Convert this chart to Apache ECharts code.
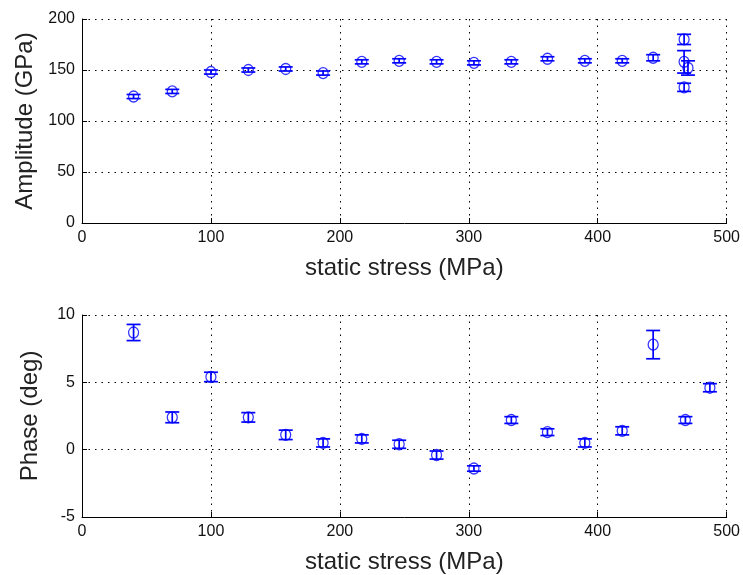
<!DOCTYPE html>
<html>
<head>
<meta charset="utf-8">
<script src="https://cdn.jsdelivr.net/npm/echarts@6/dist/echarts.min.js"></script>
<style>
html,body{margin:0;padding:0;background:#fff;}
#chart{width:743px;height:575px;}
</style>
</head>
<body>
<div id="chart"></div>
<script>
// ---- data ----
const ampX   = [40, 70, 100, 129, 158, 187, 217, 246, 275, 304, 333, 361, 390, 419, 443, 467, 467, 470, 467];
const ampY   = [124, 129, 148, 150, 151, 147, 158, 159, 158, 157, 158, 161, 159, 159, 162, 180, 158, 152, 133];
const ampErr = [2, 2, 2, 2, 2, 2, 2, 2, 2, 2, 2, 2, 2, 2, 3, 5, 11, 7, 4];

const phaseX   = [40, 70, 100, 129, 158, 187, 217, 246, 275, 304, 333, 361, 390, 419, 443, 468, 487];
const phaseY   = [8.7, 2.4, 5.4, 2.4, 1.1, 0.5, 0.8, 0.4, -0.4, -1.4, 2.2, 1.3, 0.5, 1.4, 7.8, 2.2, 4.6];
const phaseErr = [0.6, 0.4, 0.35, 0.35, 0.35, 0.3, 0.3, 0.3, 0.3, 0.2, 0.25, 0.25, 0.3, 0.3, 1.05, 0.25, 0.3];

const xTicks = [0, 100, 200, 300, 400, 500];
const ampTicks = [0, 50, 100, 150, 200];
const phaseTicks = [-5, 0, 5, 10];

const xTitle = 'static stress (MPa)';
const ampTitle = 'Amplitude (GPa)';
const phaseTitle = 'Phase (deg)';

// ---- chart ----
const BLUE = '#0000FF';
const FONT = 'Liberation Sans';

function errRender(params, api) {
  const x = api.value(0), lo = api.value(1), hi = api.value(2);
  const a = api.coord([x, hi]);
  const b = api.coord([x, lo]);
  const w = 7;
  const st = { stroke: BLUE, lineWidth: 1.7 };
  return {
    type: 'group',
    children: [
      { type: 'line', shape: { x1: a[0], y1: a[1], x2: b[0], y2: b[1] }, style: st },
      { type: 'line', shape: { x1: a[0] - w, y1: a[1], x2: a[0] + w, y2: a[1] }, style: st },
      { type: 'line', shape: { x1: b[0] - w, y1: b[1], x2: b[0] + w, y2: b[1] }, style: st }
    ]
  };
}

function xAxisCfg(gi) {
  return {
    type: 'value', gridIndex: gi, min: 0, max: 500, interval: 100,
    name: xTitle, nameLocation: 'middle', nameGap: 33,
    nameTextStyle: { fontFamily: FONT, fontSize: 24, color: '#222' },
    axisLine: { show: true, onZero: false, lineStyle: { color: '#000', width: 1 } },
    axisTick: { show: true, inside: true, length: 5, lineStyle: { color: '#000' } },
    axisLabel: { fontFamily: FONT, fontSize: 16, color: '#111', margin: 7,
      formatter: v => xTicks.includes(v) ? String(v) : '' },
    splitLine: { show: true, lineStyle: { color: '#000', type: [1.5, 5], width: 1 } }
  };
}

function yAxisCfg(gi, min, max, interval, name, ticks) {
  return {
    type: 'value', gridIndex: gi, min: min, max: max, interval: interval,
    name: name, nameLocation: 'middle', nameGap: 40, nameRotate: 90,
    nameTextStyle: { fontFamily: FONT, fontSize: 24, color: '#222' },
    axisLine: { show: true, onZero: false, lineStyle: { color: '#000', width: 1 } },
    axisTick: { show: true, inside: true, length: 5, lineStyle: { color: '#000' } },
    axisLabel: { fontFamily: FONT, fontSize: 16, color: '#111', margin: 7,
      formatter: v => ticks.includes(v) ? String(v) : '' },
    splitLine: { show: true, lineStyle: { color: '#000', type: [1.5, 5], width: 1 } }
  };
}

const ampErrData = ampX.map((x, i) => [x, ampY[i] - ampErr[i], ampY[i] + ampErr[i]]);
const phaseErrData = phaseX.map((x, i) => [x, phaseY[i] - phaseErr[i], phaseY[i] + phaseErr[i]]);
const ampPts = ampX.map((x, i) => [x, ampY[i]]);
const phasePts = phaseX.map((x, i) => [x, phaseY[i]]);

const chart = echarts.init(document.getElementById('chart'), null, { renderer: 'canvas' });
chart.setOption({
  backgroundColor: '#fff',
  animation: false,
  grid: [
    { left: 82, right: 16, top: 19, height: 204 },
    { left: 82, right: 16, top: 315, height: 204 }
  ],
  xAxis: [xAxisCfg(0), xAxisCfg(1)],
  yAxis: [
    yAxisCfg(0, 0, 200, 50, ampTitle, ampTicks),
    yAxisCfg(1, -5, 10, 5, phaseTitle, phaseTicks)
  ],
  series: [
    { type: 'custom', xAxisIndex: 0, yAxisIndex: 0, data: ampErrData,
      encode: { x: 0, y: [1, 2] }, renderItem: errRender, z: 3 },
    { type: 'scatter', xAxisIndex: 0, yAxisIndex: 0, data: ampPts,
      symbol: 'circle', symbolSize: [10, 11],
      itemStyle: { color: 'rgba(0,0,0,0)', borderColor: BLUE, borderWidth: 1.3 }, z: 4 },
    { type: 'custom', xAxisIndex: 1, yAxisIndex: 1, data: phaseErrData,
      encode: { x: 0, y: [1, 2] }, renderItem: errRender, z: 3 },
    { type: 'scatter', xAxisIndex: 1, yAxisIndex: 1, data: phasePts,
      symbol: 'circle', symbolSize: [10, 11],
      itemStyle: { color: 'rgba(0,0,0,0)', borderColor: BLUE, borderWidth: 1.3 }, z: 4 }
  ]
});
</script>
</body>
</html>
